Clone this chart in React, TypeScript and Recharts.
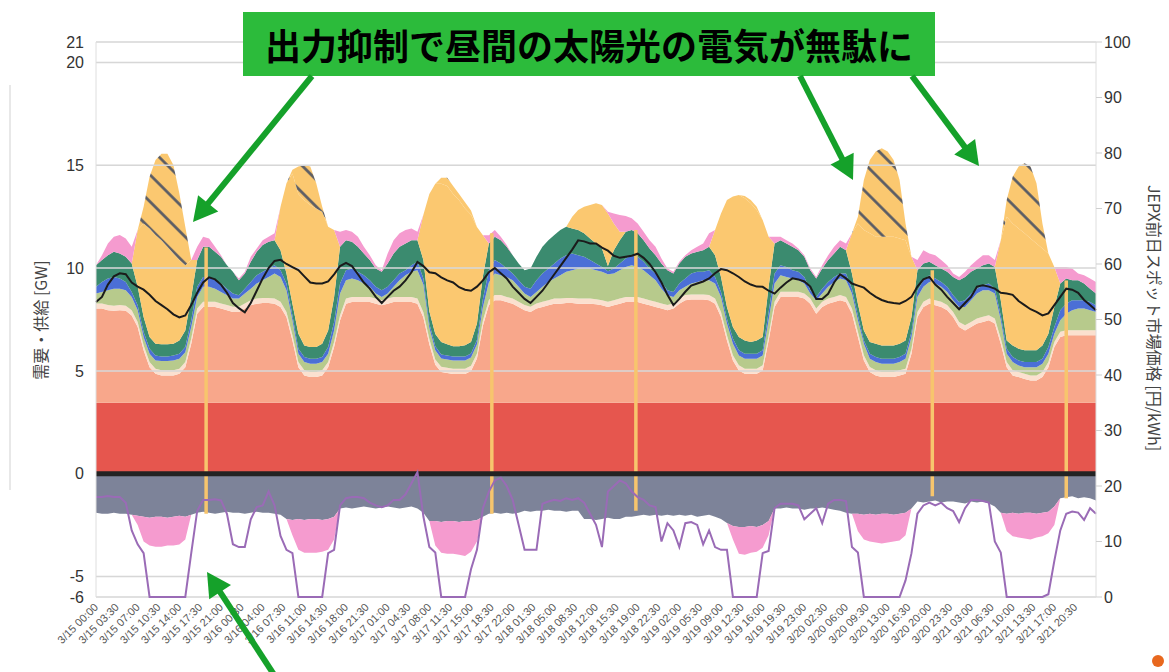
import React from "react";
import { ComposedChart, Area, Line, XAxis, YAxis, ReferenceLine } from "recharts";

const W = 1169;
const H = 672;

// x-axis labels, every 3.5 h
const tickLabels = [
  "3/15 00:00", "3/15 03:30", "3/15 07:00", "3/15 10:30", "3/15 14:00", "3/15 17:30", "3/15 21:00",
  "3/16 00:30", "3/16 04:00", "3/16 07:30", "3/16 11:00", "3/16 14:30", "3/16 18:00", "3/16 21:30",
  "3/17 01:00", "3/17 04:30", "3/17 08:00", "3/17 11:30", "3/17 15:00", "3/17 18:30", "3/17 22:00",
  "3/18 01:30", "3/18 05:00", "3/18 08:30", "3/18 12:00", "3/18 15:30", "3/18 19:00", "3/18 22:30",
  "3/19 02:00", "3/19 05:30", "3/19 09:00", "3/19 12:30", "3/19 16:00", "3/19 19:30", "3/19 23:00",
  "3/20 02:30", "3/20 06:00", "3/20 09:30", "3/20 13:00", "3/20 16:30", "3/20 20:00", "3/20 23:30",
  "3/21 03:00", "3/21 06:30", "3/21 10:00", "3/21 13:30", "3/21 17:00", "3/21 20:30",
];
const gwTicks = [21, 20, 15, 10, 5, 0, -5, -6];
const priceTicks = [0, 10, 20, 30, 40, 50, 60, 70, 80, 90, 100];

// hourly values, 3/15 00:00 .. 3/22 00:00 (GW)
const nuclear = [
  3.45, 3.45, 3.45, 3.45, 3.45, 3.45, 3.45, 3.45, 3.45, 3.45, 3.45, 3.45, 3.45, 3.45, 3.45, 3.45, 3.45, 3.45, 3.45, 3.45, 3.45, 3.45, 3.45, 3.45,
  3.45, 3.45, 3.45, 3.45, 3.45, 3.45, 3.45, 3.45, 3.45, 3.45, 3.45, 3.45, 3.45, 3.45, 3.45, 3.45, 3.45, 3.45, 3.45, 3.45, 3.45, 3.45, 3.45, 3.45,
  3.45, 3.45, 3.45, 3.45, 3.45, 3.45, 3.45, 3.45, 3.45, 3.45, 3.45, 3.45, 3.45, 3.45, 3.45, 3.45, 3.45, 3.45, 3.45, 3.45, 3.45, 3.45, 3.45, 3.45,
  3.45, 3.45, 3.45, 3.45, 3.45, 3.45, 3.45, 3.45, 3.45, 3.45, 3.45, 3.45, 3.45, 3.45, 3.45, 3.45, 3.45, 3.45, 3.45, 3.45, 3.45, 3.45, 3.45, 3.45,
  3.45, 3.45, 3.45, 3.45, 3.45, 3.45, 3.45, 3.45, 3.45, 3.45, 3.45, 3.45, 3.45, 3.45, 3.45, 3.45, 3.45, 3.45, 3.45, 3.45, 3.45, 3.45, 3.45, 3.45,
  3.45, 3.45, 3.45, 3.45, 3.45, 3.45, 3.45, 3.45, 3.45, 3.45, 3.45, 3.45, 3.45, 3.45, 3.45, 3.45, 3.45, 3.45, 3.45, 3.45, 3.45, 3.45, 3.45, 3.45,
  3.45, 3.45, 3.45, 3.45, 3.45, 3.45, 3.45, 3.45, 3.45, 3.45, 3.45, 3.45, 3.45, 3.45, 3.45, 3.45, 3.45, 3.45, 3.45, 3.45, 3.45, 3.45, 3.45, 3.45, 3.45,
];
const biomass = [
  0.25, 0.25, 0.25, 0.25, 0.25, 0.25, 0.25, 0.25, 0.25, 0.25, 0.25, 0.25, 0.25, 0.25, 0.25, 0.25, 0.25, 0.25, 0.25, 0.25, 0.25, 0.25, 0.25, 0.25,
  0.25, 0.25, 0.25, 0.25, 0.25, 0.25, 0.25, 0.25, 0.25, 0.25, 0.25, 0.25, 0.25, 0.25, 0.25, 0.25, 0.25, 0.25, 0.25, 0.25, 0.25, 0.25, 0.25, 0.25,
  0.25, 0.25, 0.25, 0.25, 0.25, 0.25, 0.25, 0.25, 0.25, 0.25, 0.25, 0.25, 0.25, 0.25, 0.25, 0.25, 0.25, 0.25, 0.25, 0.25, 0.25, 0.25, 0.25, 0.25,
  0.25, 0.25, 0.25, 0.25, 0.25, 0.25, 0.25, 0.25, 0.25, 0.25, 0.25, 0.25, 0.25, 0.25, 0.25, 0.25, 0.25, 0.25, 0.25, 0.25, 0.25, 0.25, 0.25, 0.25,
  0.25, 0.25, 0.25, 0.25, 0.25, 0.25, 0.25, 0.25, 0.25, 0.25, 0.25, 0.25, 0.25, 0.25, 0.25, 0.25, 0.25, 0.25, 0.25, 0.25, 0.25, 0.25, 0.25, 0.25,
  0.25, 0.25, 0.25, 0.25, 0.25, 0.25, 0.25, 0.25, 0.25, 0.25, 0.25, 0.25, 0.25, 0.25, 0.25, 0.25, 0.25, 0.25, 0.25, 0.25, 0.25, 0.25, 0.25, 0.25,
  0.25, 0.25, 0.25, 0.25, 0.25, 0.25, 0.25, 0.25, 0.25, 0.25, 0.25, 0.25, 0.25, 0.25, 0.25, 0.25, 0.25, 0.25, 0.25, 0.25, 0.25, 0.25, 0.25, 0.25, 0.25,
];
// stack levels (top edge of each band, GW)
const thermalTop = [
  8.03, 8.03, 7.95, 7.92, 7.95, 7.92, 7.70, 7.13, 6.00, 5.18, 4.86, 4.78, 4.78, 4.78, 4.86, 5.18, 6.32, 7.78, 8.11, 8.11, 8.11, 8.03, 7.95, 7.87,
  7.87, 8.03, 8.19, 8.27, 8.30, 8.30, 8.27, 8.11, 7.62, 6.48, 5.18, 4.78, 4.70, 4.70, 4.78, 5.18, 6.16, 7.46, 8.27, 8.35, 8.35, 8.35, 8.35, 8.27,
  8.19, 8.27, 8.35, 8.35, 8.35, 8.35, 8.27, 7.60, 6.30, 5.30, 4.95, 4.90, 4.85, 4.85, 4.85, 5.00, 5.60, 7.20, 8.20, 8.44, 8.44, 8.35, 8.27, 8.11,
  7.95, 7.87, 8.03, 8.11, 8.19, 8.27, 8.27, 8.30, 8.30, 8.27, 8.27, 8.27, 8.24, 8.19, 8.11, 8.19, 8.27, 8.35, 8.35, 8.35, 8.27, 8.19, 8.11, 8.03,
  7.95, 8.03, 8.27, 8.44, 8.47, 8.47, 8.47, 8.44, 8.27, 7.62, 6.48, 5.51, 5.02, 4.86, 4.86, 4.86, 5.02, 6.48, 8.11, 8.60, 8.60, 8.60, 8.60, 8.52,
  8.27, 7.78, 8.11, 8.27, 8.35, 8.44, 8.35, 7.78, 6.65, 5.51, 4.94, 4.78, 4.70, 4.70, 4.70, 4.78, 4.86, 5.83, 7.62, 8.11, 8.27, 8.19, 8.11, 7.95,
  7.62, 7.13, 6.97, 7.13, 7.30, 7.38, 7.46, 7.30, 6.32, 5.18, 4.78, 4.70, 4.61, 4.53, 4.53, 4.70, 5.18, 6.16, 6.65, 6.73, 6.73, 6.73, 6.73, 6.73, 6.73,
];
const hydroTop = [
  8.76, 8.84, 8.92, 9.00, 9.00, 8.92, 8.60, 7.95, 6.65, 5.83, 5.51, 5.48, 5.48, 5.51, 5.59, 5.91, 7.13, 8.60, 9.09, 9.09, 9.00, 8.84, 8.68, 8.52,
  8.52, 8.76, 9.00, 9.25, 9.41, 9.57, 9.74, 9.57, 8.92, 7.46, 5.83, 5.43, 5.35, 5.35, 5.43, 5.83, 6.97, 8.76, 9.41, 9.49, 9.41, 9.25, 9.09, 8.76,
  8.60, 8.76, 9.09, 9.41, 9.65, 9.82, 9.90, 9.20, 7.10, 6.00, 5.60, 5.55, 5.50, 5.50, 5.50, 5.65, 6.30, 8.10, 9.30, 9.74, 9.65, 9.57, 9.41, 9.09,
  8.76, 8.60, 8.84, 9.09, 9.33, 9.49, 9.65, 9.82, 9.90, 9.98, 9.98, 9.98, 9.90, 9.82, 9.70, 9.74, 9.90, 10.06, 10.14, 10.06, 9.90, 9.65, 9.41, 9.00,
  8.68, 8.60, 8.92, 9.09, 9.25, 9.33, 9.41, 9.41, 9.25, 8.60, 7.30, 6.32, 5.75, 5.59, 5.59, 5.59, 5.75, 7.46, 9.25, 9.65, 9.57, 9.49, 9.41, 9.25,
  8.76, 8.44, 8.76, 9.09, 9.33, 9.49, 9.41, 8.76, 7.46, 6.32, 5.59, 5.43, 5.35, 5.35, 5.35, 5.43, 5.59, 6.65, 8.60, 9.09, 9.33, 9.25, 9.09, 8.84,
  8.44, 8.11, 8.11, 8.44, 8.76, 8.92, 8.92, 8.76, 7.46, 5.83, 5.43, 5.26, 5.18, 5.18, 5.18, 5.35, 5.83, 6.81, 7.46, 7.78, 7.95, 8.03, 8.03, 7.95, 7.87,
];
const geoTop = [
  9.09, 9.33, 9.49, 9.57, 9.49, 9.33, 8.84, 8.19, 6.89, 6.08, 5.75, 5.70, 5.70, 5.75, 5.83, 6.16, 7.46, 9.09, 9.57, 9.57, 9.41, 9.25, 9.00, 8.76,
  8.68, 9.00, 9.33, 9.65, 9.82, 9.98, 10.14, 9.90, 9.25, 7.70, 6.08, 5.67, 5.59, 5.59, 5.67, 6.16, 7.38, 9.25, 9.90, 9.98, 9.82, 9.65, 9.41, 9.09,
  8.92, 9.09, 9.41, 9.74, 9.90, 10.14, 10.31, 9.50, 7.30, 6.20, 5.80, 5.75, 5.70, 5.70, 5.70, 5.85, 6.50, 8.50, 9.90, 10.39, 10.22, 9.98, 9.74, 9.41,
  9.09, 9.00, 9.41, 9.74, 9.98, 10.22, 10.47, 10.63, 10.71, 10.63, 10.55, 10.39, 10.22, 10.06, 9.85, 9.98, 10.22, 10.47, 10.63, 10.55, 10.31, 9.98, 9.74, 9.33,
  8.92, 8.84, 9.25, 9.49, 9.74, 9.82, 9.82, 9.90, 9.57, 8.84, 7.54, 6.57, 6.00, 5.83, 5.83, 5.83, 6.00, 7.87, 9.74, 10.14, 10.06, 9.90, 9.82, 9.57,
  8.92, 8.60, 9.00, 9.33, 9.57, 9.74, 9.74, 9.00, 7.70, 6.48, 5.83, 5.67, 5.59, 5.59, 5.59, 5.67, 5.83, 6.89, 8.90, 9.41, 9.65, 9.49, 9.33, 9.09,
  8.68, 8.35, 8.44, 8.76, 9.00, 9.17, 9.25, 9.00, 7.70, 6.08, 5.67, 5.51, 5.43, 5.43, 5.43, 5.59, 6.16, 7.13, 7.95, 8.27, 8.44, 8.44, 8.44, 8.35, 8.19,
];
const windTop = [
  10.14, 10.39, 10.63, 10.79, 10.71, 10.55, 10.22, 9.09, 7.62, 6.65, 6.32, 6.29, 6.29, 6.32, 6.48, 6.97, 8.60, 10.39, 11.04, 11.04, 10.79, 10.55, 10.14, 9.82,
  9.41, 9.74, 10.31, 10.79, 11.12, 11.28, 11.36, 10.87, 9.74, 8.27, 6.81, 6.24, 6.16, 6.16, 6.32, 6.97, 8.60, 11.04, 11.36, 11.28, 11.04, 10.71, 10.39, 9.98,
  9.82, 10.22, 10.71, 11.04, 11.20, 11.36, 11.36, 10.40, 7.90, 6.80, 6.40, 6.30, 6.20, 6.20, 6.25, 6.40, 7.30, 9.60, 11.20, 11.52, 11.36, 11.04, 10.63, 10.22,
  9.90, 9.98, 10.55, 11.04, 11.36, 11.61, 11.85, 12.01, 11.93, 11.85, 11.69, 11.44, 11.20, 10.96, 10.10, 10.87, 11.36, 11.77, 11.85, 11.69, 11.36, 10.96, 10.63, 10.22,
  9.90, 9.74, 10.22, 10.55, 10.71, 10.79, 10.87, 11.04, 10.63, 9.57, 8.11, 7.13, 6.65, 6.48, 6.40, 6.48, 6.65, 9.09, 11.20, 11.36, 11.20, 11.04, 10.87, 10.55,
  9.90, 9.49, 9.98, 10.39, 10.71, 11.04, 10.87, 9.74, 8.27, 6.97, 6.40, 6.32, 6.24, 6.24, 6.24, 6.32, 6.48, 7.62, 9.90, 10.22, 10.31, 10.14, 9.98, 9.82,
  9.57, 9.41, 9.57, 9.82, 9.98, 10.14, 10.22, 10.06, 8.44, 6.48, 6.24, 6.08, 6.00, 6.00, 6.00, 6.24, 6.81, 8.11, 9.25, 9.49, 9.41, 9.41, 9.25, 9.00, 8.76,
];
const _ = null;
const solarTop: (number | null)[] = [
  _, _, _, _, _, _, _, 11.85, 12.17, 11.93, 11.61, 11.36, 11.04, 10.71, 10.39, 10.14, 10.39, _, _, _, _, _, _, _,
  _, _, _, _, _, _, _, 12.99, 14.13, 14.60, 13.60, 13.30, 13.07, 12.90, 12.74, 12.01, 11.85, _, _, _, _, _, _, _,
  _, _, _, _, _, _, _, 12.60, 13.60, 14.10, 14.10, 14.00, 13.60, 13.30, 12.90, 12.60, 12.00, 11.60, _, _, _, _, _, _,
  _, _, _, _, _, _, _, _, 12.50, 12.83, 12.99, 13.07, 13.15, 13.07, 12.66, 12.17, 11.77, _, _, _, _, _, _, _,
  _, _, _, _, _, _, _, _, 11.85, 12.66, 13.31, 13.48, 13.56, 13.40, 13.15, 12.83, 12.34, 11.52, _, _, _, _, _, _,
  _, _, _, _, _, _, _, 11.69, 12.17, 11.85, 11.69, 11.52, 11.52, 11.52, 11.52, 11.44, 11.36, 10.55, _, _, _, _, _, _,
  _, _, _, _, _, _, _, _, 11.36, 12.50, 12.17, 11.93, 11.69, 11.44, 11.20, 10.96, 10.71, 10.06, _, _, _, _, _, _, _,
];
// curtailed solar (出力抑制), top of hatched part
const curtailTop: (number | null)[] = [
  _, _, _, _, _, _, _, _, 12.99, 14.45, 15.26, 15.56, 15.56, 15.02, 13.64, 12.01, _, _, _, _, _, _, _, _,
  _, _, _, _, _, _, _, _, _, 14.78, 14.94, 15.02, 14.94, 14.13, 12.99, _, _, _, _, _, _, _, _, _,
  _, _, _, _, _, _, _, _, _, _, 14.40, 14.40, 14.00, 13.60, 13.20, 12.80, _, _, _, _, _, _, _, _,
  _, _, _, _, _, _, _, _, _, _, _, _, _, _, _, _, _, _, _, _, _, _, _, _,
  _, _, _, _, _, _, _, _, _, _, _, _, _, 13.51, 13.31, 12.99, _, _, _, _, _, _, _, _,
  _, _, _, _, _, _, _, _, 12.50, 14.29, 15.26, 15.67, 15.83, 15.67, 15.26, 14.29, 12.17, _, _, _, _, _, _, _,
  _, _, _, _, _, _, _, _, _, 13.31, 14.45, 14.94, 15.10, 14.94, 14.13, 12.17, _, _, _, _, _, _, _, _, _,
];
const pumpTop: (number | null)[] = [
  _, 10.63, 11.20, 11.52, 11.61, 11.44, 11.04, _, _, _, _, _, _, _, _, _, _, 11.04, 11.52, 11.44, 11.04, 10.63, _, _,
  9.49, 9.82, 10.55, 10.96, 11.36, 11.52, 11.69, _, _, _, _, _, _, _, _, _, _, 11.77, 11.85, 11.77, 11.52, 11.04, 10.63, 10.14,
  9.90, 10.71, 11.36, 11.69, 11.85, 11.93, 11.77, _, _, _, _, _, _, _, _, _, _, _, 11.60, 11.85, 11.52, 11.12, _, _,
  _, _, _, _, _, _, _, _, _, _, _, _, _, _, 12.74, 12.66, 12.58, 12.53, 12.42, 12.17, 11.77, 11.36, 11.04, 10.47,
  9.98, 9.82, 10.31, 10.63, 10.87, 11.04, 11.20, 11.69, _, _, _, _, _, _, _, _, _, _, 11.52, 11.52, 11.36, 11.20, 10.96, 10.63,
  9.98, 9.57, 10.14, 10.63, 11.04, 11.36, 11.20, _, _, _, _, _, _, _, _, _, _, _, 10.39, 10.87, 10.71, 10.63, 10.39, 10.14,
  9.74, 9.57, 9.82, 10.14, 10.39, 10.63, 10.63, 10.39, _, _, _, _, _, _, _, _, _, _, 10.06, 10.06, 9.98, 9.74, 9.65, 9.49, 9.33,
];
// below zero: interconnector outflow and pumping load (lower edges)
const exportBottom = [
  -1.90, -1.95, -1.95, -1.90, -1.95, -1.95, -2.00, -2.05, -2.10, -2.15, -2.10, -2.10, -2.15, -2.10, -2.05, -2.10, -2.00, -1.90, -1.85, -1.90, -1.95, -1.90, -1.85, -1.90,
  -1.90, -1.95, -1.90, -1.85, -1.90, -1.90, -1.95, -2.00, -2.20, -2.25, -2.20, -2.25, -2.20, -2.20, -2.25, -2.20, -2.10, -1.70, -1.65, -1.70, -1.65, -1.60, -1.65, -1.70,
  -1.65, -1.60, -1.65, -1.70, -1.65, -1.60, -1.70, -1.90, -2.30, -2.30, -2.35, -2.30, -2.30, -2.35, -2.30, -2.30, -2.25, -2.10, -1.95, -1.90, -1.95, -1.90, -1.95, -1.90,
  -1.80, -1.85, -1.80, -1.80, -1.75, -1.80, -1.80, -1.85, -1.80, -1.80, -2.20, -2.20, -2.25, -2.20, -2.15, -2.20, -2.20, -2.10, -2.10, -2.05, -2.00, -2.05, -2.00, -2.05,
  -2.00, -2.05, -2.00, -2.05, -2.00, -2.10, -2.05, -2.00, -2.10, -2.20, -2.40, -2.55, -2.60, -2.60, -2.55, -2.60, -2.50, -2.30, -1.70, -1.70, -1.65, -1.70, -1.70, -1.75,
  -1.70, -1.70, -1.65, -1.70, -1.75, -1.80, -1.90, -1.95, -1.95, -2.00, -1.95, -2.00, -1.95, -1.95, -2.00, -1.95, -1.90, -1.70, -1.35, -1.40, -1.35, -1.30, -1.40, -1.35,
  -1.35, -1.40, -1.45, -1.35, -1.40, -1.35, -1.45, -1.60, -1.90, -1.95, -1.90, -1.95, -1.90, -1.90, -1.95, -1.90, -1.85, -1.60, -1.20, -1.15, -1.10, -1.20, -1.15, -1.20, -1.30,
];
const pumpBottom: (number | null)[] = [
  _, _, _, _, _, _, _, -2.50, -3.30, -3.50, -3.55, -3.55, -3.50, -3.50, -3.45, -3.20, _, _, _, _, _, _, _, _,
  _, _, _, _, _, _, _, _, _, -3.00, -3.70, -3.85, -3.85, -3.85, -3.80, -3.70, -3.20, _, _, _, _, _, _, _,
  _, _, _, _, _, _, _, _, _, -3.50, -3.85, -3.90, -3.90, -3.95, -4.00, -3.80, -3.30, _, _, _, _, _, _, _,
  _, _, _, _, _, _, _, _, _, _, _, _, _, _, _, _, _, _, _, _, _, _, _, _,
  _, _, _, _, _, _, _, _, _, _, _, -3.20, -3.90, -3.95, -3.85, -3.80, -3.60, -3.00, _, _, _, _, _, _,
  _, _, _, _, _, _, _, _, -2.80, -3.20, -3.30, -3.35, -3.40, -3.35, -3.30, -3.25, -3.00, _, _, _, _, _, _, _,
  _, _, _, _, _, _, _, _, _, -2.80, -3.05, -3.10, -3.15, -3.20, -3.10, -3.05, -2.90, -2.50, _, _, _, _, _, _, _,
];
const demand = [
  8.35, 8.6, 9.2, 9.6, 9.75, 9.7, 9.3, 9.1, 8.95, 8.7, 8.4, 8.2, 8.0, 7.75, 7.6, 7.7, 8.2, 8.8, 9.3, 9.55, 9.45, 9.2, 8.8, 8.3,
  8.05, 7.85, 8.3, 8.9, 9.5, 10.0, 10.35, 10.4, 10.2, 10.05, 9.9, 9.6, 9.3, 9.25, 9.25, 9.35, 9.7, 10.1, 10.25, 10.1, 9.7, 9.3, 9.0, 8.6,
  8.3, 8.6, 8.9, 9.1, 9.4, 9.8, 10.3, 10.1, 9.8, 9.75, 9.55, 9.4, 9.3, 9.07, 8.95, 8.9, 9.1, 9.4, 9.8, 10.0, 9.75, 9.5, 9.1, 8.8,
  8.5, 8.3, 8.6, 8.9, 9.3, 9.7, 10.1, 10.5, 10.9, 11.35, 11.3, 11.2, 11.2, 11.0, 10.85, 10.6, 10.5, 10.55, 10.6, 10.7, 10.5, 10.2, 9.8, 9.3,
  8.7, 8.2, 8.5, 8.85, 9.15, 9.25, 9.35, 9.5, 9.75, 9.95, 9.9, 9.75, 9.57, 9.35, 9.2, 9.1, 9.09, 8.9, 8.76, 9.05, 9.3, 9.5, 9.45, 9.35,
  9.1, 8.5, 8.5, 8.75, 9.3, 9.7, 9.5, 9.25, 9.15, 9.05, 8.8, 8.6, 8.45, 8.35, 8.3, 8.27, 8.4, 8.6, 9.1, 9.45, 9.57, 9.2, 8.95, 8.6,
  8.3, 8.0, 8.3, 8.6, 9.1, 9.17, 9.1, 9.0, 8.8, 8.76, 8.7, 8.4, 8.2, 8.0, 7.87, 7.7, 7.8, 8.2, 8.6, 9.0, 8.95, 8.8, 8.45, 8.2, 7.95,
];
// JEPX price, 円/kWh
const price = [
  18.0, 18.0, 18.2, 18.0, 18.0, 17.0, 12.0, 9.5, 7.9, 0, 0, 0, 0, 0, 0, 0, 7.9, 15.5, 17.5, 17.5, 17.6, 17.4, 15.0, 9.5,
  9.0, 9.0, 14.0, 16.2, 16.5, 19.0, 16.5, 11.0, 8.5, 7.9, 0, 0, 0, 0, 0, 7.9, 8.5, 16.5, 17.8, 18.0, 18.0, 17.8, 17.0, 16.5,
  16.2, 16.5, 17.5, 17.5, 18.5, 20.5, 22.5, 14.5, 9.0, 8.0, 0, 0, 0, 0, 0, 5.0, 8.5, 16.0, 19.0, 21.0, 21.5, 20.0, 17.5, 13.0,
  8.5, 8.5, 8.5, 16.8, 17.2, 17.5, 17.3, 17.8, 17.5, 17.8, 17.0, 15.0, 13.0, 9.0, 19.0, 20.0, 21.0, 20.5, 19.0, 18.0, 17.5, 16.5, 16.2, 10.0,
  13.3, 12.0, 9.0, 13.3, 13.5, 13.0, 9.5, 12.0, 9.0, 8.5, 8.5, 0, 0, 0, 0, 0, 7.9, 8.3, 16.0, 16.8, 16.8, 16.8, 16.5, 14.0,
  15.0, 16.0, 13.3, 16.8, 17.5, 17.5, 17.3, 9.0, 8.0, 0, 0, 0, 0, 0, 0, 0, 3.0, 7.9, 15.0, 16.5, 17.0, 16.5, 17.0, 16.0,
  15.5, 13.5, 16.0, 17.5, 17.5, 17.3, 17.0, 10.0, 8.0, 0, 0, 0, 0, 0, 0, 0, 0.5, 6.5, 12.0, 15.0, 15.4, 15.2, 13.9, 16.0, 15.0,
];
// single-sample spikes in the source data
const glitchHours = [18.5, 66.5, 90.7, 140.5, 163];
const glitchTop = [11.0, 11.7, 11.85, 9.9, 9.4];
const glitchBottom = [-1.95, -1.95, -1.8, -1.1, -1.2];

const toHour = (s: string) => {
  const [md, hm] = s.split(" ");
  const day = Number(md.split("/")[1]);
  const [hh, mm] = hm.split(":").map(Number);
  return (day - 15) * 24 + hh + mm / 60;
};
const tickHours = tickLabels.map(toHour);
const labelAt = new Map(tickHours.map((h, i) => [h, tickLabels[i]]));

const data = demand.map((d, i) => {
  const th = thermalTop[i];
  const bm = th + biomass[i];
  const hy = Math.max(hydroTop[i], bm);
  const ge = Math.max(geoTop[i], hy);
  const wi = Math.max(windTop[i], ge);
  const so = Math.max(solarTop[i] ?? wi, wi);
  const cu = Math.max(curtailTop[i] ?? so, so);
  const pu = Math.max(pumpTop[i] ?? cu, cu);
  const ex = exportBottom[i];
  const pb = Math.min(pumpBottom[i] ?? ex, ex);
  return {
    h: i,
    nuclear: [0, nuclear[i]],
    thermal: [nuclear[i], th],
    biomass: [th, bm],
    hydro: [bm, hy],
    geo: [hy, ge],
    wind: [ge, wi],
    solar: [wi, so],
    curtail: [so, cu],
    pumpGen: [cu, pu],
    exportFlow: [ex, 0],
    pumpUse: [pb, ex],
    demand: d,
    price: price[i],
  };
});

const bands = [
  { key: "nuclear", name: "原子力", fill: "#e6564e" },
  { key: "thermal", name: "火力", fill: "#f8a78b" },
  { key: "biomass", name: "バイオマス", fill: "#fbe0cf" },
  { key: "hydro", name: "水力", fill: "#b7ca8c" },
  { key: "geo", name: "地熱", fill: "#4b6fd6" },
  { key: "wind", name: "風力", fill: "#3b8b6f" },
  { key: "solar", name: "太陽光", fill: "#fbc870" },
  { key: "curtail", name: "出力抑制", fill: "url(#hatch)" },
  { key: "pumpGen", name: "揚水発電", fill: "#f59bcf" },
  { key: "exportFlow", name: "連系線", fill: "#7d8399" },
  { key: "pumpUse", name: "揚水動力", fill: "#f59bcf" },
];

const XTick = (props: any) => {
  const { x, y, payload } = props;
  return (
    <text
      x={x}
      y={y}
      transform={`rotate(-45 ${x} ${y})`}
      textAnchor="end"
      fontSize={11}
      fill="#555"
      dy={4}
    >
      {labelAt.get(payload.value)}
    </text>
  );
};

function Arrow({ x1, y1, x2, y2 }: { x1: number; y1: number; x2: number; y2: number }) {
  const len = Math.hypot(x2 - x1, y2 - y1);
  const ux = (x2 - x1) / len;
  const uy = (y2 - y1) / len;
  const head = 24;
  const half = 13;
  const bx = x2 - ux * head;
  const by = y2 - uy * head;
  const pts = `${x2},${y2} ${bx - uy * half},${by + ux * half} ${bx + uy * half},${by - ux * half}`;
  return (
    <g>
      <line x1={x1} y1={y1} x2={bx + ux * 2} y2={by + uy * 2} stroke="#15a12a" strokeWidth={6} />
      <polygon points={pts} fill="#15a12a" />
    </g>
  );
}

export default function App() {
  return (
    <div
      style={{
        position: "absolute",
        left: 0,
        top: 0,
        width: W,
        height: H,
        background: "#fff",
        fontFamily: "'Liberation Sans', Arial, sans-serif",
      }}
    >
      <ComposedChart
        width={W}
        height={H}
        data={data}
        margin={{ top: 42, right: 13, bottom: 0, left: 36 }}
      >
        <defs>
          <pattern
            id="hatch"
            patternUnits="userSpaceOnUse"
            width={19}
            height={19}
            patternTransform="rotate(-45)"
          >
            <rect width={19} height={19} fill="#fbc870" />
            <line x1={1.5} y1={0} x2={1.5} y2={19} stroke="#525764" strokeWidth={2.6} />
          </pattern>
        </defs>
        <XAxis
          dataKey="h"
          type="number"
          domain={[0, 168]}
          ticks={tickHours}
          interval={0}
          tick={<XTick />}
          axisLine={false}
          tickLine={false}
          height={75}
        />
        <YAxis
          yAxisId="gw"
          domain={[-6, 21]}
          ticks={gwTicks}
          interval={0}
          width={60}
          axisLine={{ stroke: "#dedede" }}
          tickLine={false}
          tickMargin={6}
          tick={{ fill: "#333", fontSize: 16 }}
        />
        <YAxis
          yAxisId="price"
          orientation="right"
          domain={[0, 100]}
          ticks={priceTicks}
          interval={0}
          width={60}
          axisLine={{ stroke: "#dedede" }}
          tickLine={{ stroke: "#cfcfcf" }}
          tick={{ fill: "#333", fontSize: 16 }}
        />
        {gwTicks.map((v) => (
          <ReferenceLine key={`g${v}`} yAxisId="gw" y={v} stroke="#e4e4e4" strokeWidth={1.5} />
        ))}
        {bands.map((b) => (
          <Area
            key={b.key}
            yAxisId="gw"
            dataKey={b.key}
            name={b.name}
            type="linear"
            fill={b.fill}
            fillOpacity={1}
            stroke="none"
            isAnimationActive={false}
          />
        ))}
        {gwTicks.map((v) => (
          <ReferenceLine key={`o${v}`} yAxisId="gw" y={v} stroke="rgba(120,120,120,0.12)" strokeWidth={1.5} />
        ))}
        {glitchHours.map((h, i) => (
          <ReferenceLine
            key={`s${i}`}
            yAxisId="gw"
            segment={[
              { x: h, y: glitchBottom[i] },
              { x: h, y: glitchTop[i] },
            ]}
            stroke="#f7c56d"
            strokeWidth={3.5}
          />
        ))}
        <ReferenceLine yAxisId="gw" y={0} stroke="#232323" strokeWidth={5} />
        <Line
          yAxisId="gw"
          dataKey="demand"
          name="需要"
          type="linear"
          stroke="#1b1b1b"
          strokeWidth={2}
          dot={false}
          isAnimationActive={false}
        />
        <Line
          yAxisId="price"
          dataKey="price"
          name="JEPX"
          type="linear"
          stroke="#9a6bb6"
          strokeWidth={2}
          dot={false}
          isAnimationActive={false}
        />
      </ComposedChart>

      <svg
        width={W}
        height={H}
        style={{ position: "absolute", left: 0, top: 0, pointerEvents: "none" }}
      >
        <line x1={10} y1={85} x2={10} y2={490} stroke="#e8e8e8" strokeWidth={2} />
        <text
          transform="translate(40 320) rotate(-90)"
          textAnchor="middle"
          dominantBaseline="central"
          fontSize={16}
          fill="#444"
          fontFamily="'Noto Sans CJK JP', sans-serif"
        >
          需要・供給 [GW]
        </text>
        <text
          transform="translate(1155 318) rotate(90)"
          textAnchor="middle"
          dominantBaseline="central"
          fontSize={16}
          fill="#444"
          fontFamily="'Noto Sans CJK JP', sans-serif"
        >
          JEPX前日スポット市場価格 [円/kWh]
        </text>
        <rect x={243} y={12} width={692} height={64} fill="#2cbb3b" />
        <text
          x={589}
          y={44}
          textAnchor="middle"
          dominantBaseline="central"
          fontSize={36}
          fontWeight={700}
          fill="#000"
          fontFamily="'Noto Sans CJK JP', sans-serif"
        >
          出力抑制で昼間の太陽光の電気が無駄に
        </text>
        <Arrow x1={312} y1={76} x2={193} y2={222} />
        <Arrow x1={800} y1={76} x2={853} y2={180} />
        <Arrow x1={912} y1={76} x2={979} y2={166} />
        <Arrow x1={284} y1={690} x2={207} y2={572} />
        <circle cx={1158} cy={661} r={6} fill="#e8681e" />
      </svg>
    </div>
  );
}
